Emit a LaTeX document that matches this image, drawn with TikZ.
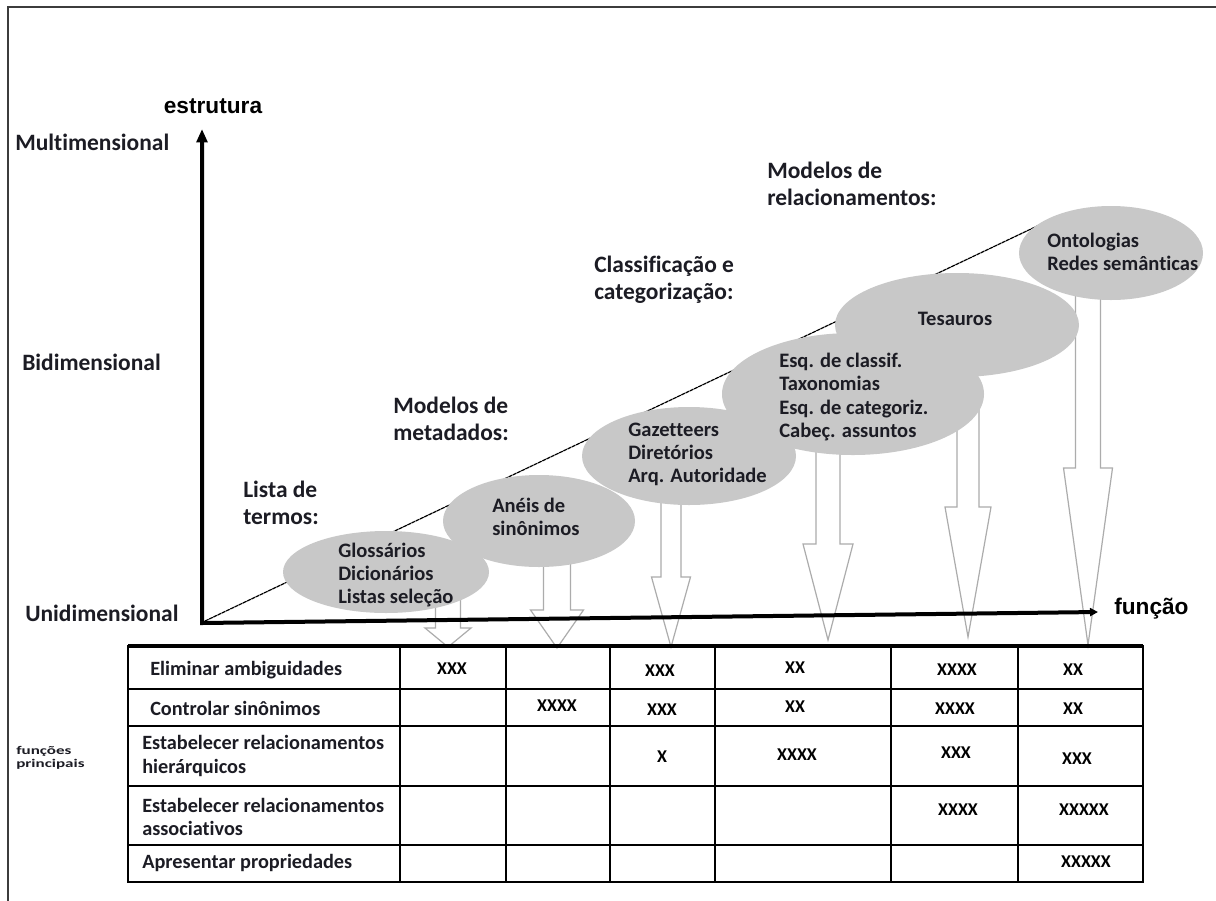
\documentclass[tikz,border=0pt]{standalone}
\usepackage{fontspec}
\setmainfont{Carlito}[Ligatures=CommonOff]
\newfontfamily\axisfont{Liberation Sans}
\usetikzlibrary{shapes.geometric,arrows.meta}
\definecolor{ellgray}{RGB}{200,200,200}
\definecolor{arrgray}{RGB}{172,172,172}
\definecolor{txt}{RGB}{28,28,36}
\definecolor{framegray}{RGB}{60,60,60}
\newcommand\blockarrow[7]{% name, xc, ytop, ywing, ytip, half shaft, half head
  \coordinate (#1) at (#2,#5);
  \draw[barrow] ({#2-#6},#3) -- ({#2-#6},#4) -- ({#2-#7},#4) -- (#1) -- ({#2+#7},#4) -- ({#2+#6},#4) -- ({#2+#6},#3);}
\begin{document}
\begin{tikzpicture}[x=0.75pt,y=-0.75pt,
  barrow/.style={draw=arrgray, line width=0.9pt, line join=miter},
  ell/.style={ellipse, fill=ellgray, draw=none, inner sep=0pt},
  big/.style={font=\fontsize{17.6}{20.4}\selectfont\bfseries, align=left, anchor=west, inner sep=0pt, text=txt},
  elltext/.style={font=\fontsize{15.4}{17.3}\selectfont\bfseries, align=left, anchor=west, inner sep=0pt, text=txt},
  axlabel/.style={font=\axisfont\fontsize{17}{20}\selectfont\bfseries, inner sep=0pt, text=black},
  rowlab/.style={font=\fontsize{15.2}{17.5}\selectfont\bfseries, align=left, anchor=west, inner sep=0pt, text=txt},
  cellx/.style={font=\fontsize{13.5}{16}\selectfont\bfseries, inner sep=0pt, text=black},
  tline/.style={line width=1.5pt, black},
  axis/.style={line width=3pt, black, line join=miter},
  diag/.style={line width=0.9pt, black, dash pattern=on 3pt off 0.5pt}]
\useasboundingbox (0,0) rectangle (1216,900);
\fill[white] (0,0) rectangle (1216,900);
% frame
\draw[framegray, line width=1.2pt] (8,905) -- (8,7) -- (1222,7);

% block arrows (drawn first, ellipses cover their tops)
\blockarrow{t1}{448}{598}{628}{647}{12.5}{23}
\blockarrow{t2}{557}{540}{610}{648}{13.5}{26.5}
\blockarrow{t3}{671}{480}{577}{647}{10}{19.5}
\blockarrow{t4}{828}{420}{544}{640}{12}{25}
\blockarrow{t5}{968}{400}{507}{637}{11}{23}
\blockarrow{t6}{1088}{270}{468}{645}{12.5}{24.5}

% diagonal line
\coordinate (dstart) at (205,621);
\coordinate (dend) at (1052,219);
\draw[diag] (dstart) -- (dend);

% ellipses
\node[ell, minimum width=154.5pt, minimum height=61.5pt] (e1) at (386,572) {};
\node[ell, minimum width=144pt, minimum height=69pt] (e2) at (539,521) {};
\node[ell, minimum width=160.5pt, minimum height=73.5pt] (e3) at (689,456) {};
\node[ell, minimum width=196.5pt, minimum height=91.5pt] (e4) at (853,394) {};
\node[ell, minimum width=183pt, minimum height=78pt] (e5) at (957,325) {};
\node[ell, minimum width=138pt, minimum height=70.5pt] (e6) at (1111,253) {};

% ellipse texts
\node[elltext] (g1) at (338,575) {Glossários\\Dicionários\\Listas seleção};
\node[elltext] (g2) at (492,517) {Anéis de\\sinônimos};
\node[elltext] (g3) at (628,454) {Gazetteers\\Diretórios\\Arq. Autoridade};
\node[elltext] (g4) at (779,397) {Esq. de classif.\\Taxonomias\\Esq. de categoriz.\\Cabeç. assuntos};
\node[elltext, anchor=center] (g5) at (955,319) {Tesauros};
\node[elltext] (g6) at (1047,252) {Ontologias\\Redes semânticas};

% category labels
\node[big] (c1) at (243,503) {Lista de\\termos:};
\node[big] (c2) at (393,419) {Modelos de\\metadados:};
\node[big] (c3) at (594,280) {Classificação e\\categorização:};
\node[big] (c4) at (767,184) {Modelos de\\relacionamentos:};

% axes
\coordinate (O) at (202,623);
\coordinate (ytop) at (202,129);
\coordinate (xend) at (1098,612);
\draw[axis, {Triangle[length=10pt,width=8pt]}-{Triangle[length=6pt,width=6pt]}] (ytop) -- (O) -- (xend);

% axis labels
\node[axlabel] (lest) at (213,106) {estrutura};
\node[axlabel, anchor=west] (lfun) at (1114,609) {função};
\node[big] (lmul) at (15,142) {Multimensional};
\node[big] (lbid) at (22,362) {Bidimensional};
\node[big] (luni) at (25,613) {Unidimensional};

% small side label
\node[font=\fontsize{8.8}{9.8}\selectfont\bfseries, align=left, anchor=west, inner sep=0pt, text=txt] (fp) at (16,758)
  {\scalebox{1.45}[1]{funções}\\\scalebox{1.45}[1]{principais}};

% table
\draw[tline] (128,646) rectangle (1143,882);
\draw[line width=3pt] (128,646) -- (1143,646);
\draw[line width=2.2pt] (1143,646) -- (1143,882);
\foreach \y in {689,726,786,845} \draw[tline] (128,\y) -- (1143,\y);
\foreach \x in {400,506,610,715,891,1018} \draw[tline] (\x,646) -- (\x,882);

% row labels
\node[rowlab] (r1) at (150,670) {Eliminar ambiguidades};
\node[rowlab] (r2) at (150,708) {Controlar sinônimos};
\node[rowlab] (r3) at (142,756) {Estabelecer relacionamentos\\hierárquicos};
\node[rowlab] (r4) at (142,817) {Estabelecer relacionamentos\\associativos};
\node[rowlab] (r5) at (142,863) {Apresentar propriedades};

% cell marks
\node[cellx] (x11) at (452,669) {XXX};
\node[cellx] (x13) at (660,671) {XXX};
\node[cellx] (x14) at (795,668) {XX};
\node[cellx] (x15) at (957,670) {XXXX};
\node[cellx] (x16) at (1073,670) {XX};
\node[cellx] (x22) at (557,706) {XXXX};
\node[cellx] (x23) at (662,710) {XXX};
\node[cellx] (x24) at (795,707) {XX};
\node[cellx] (x25) at (955,709) {XXXX};
\node[cellx] (x26) at (1073,709) {XX};
\node[cellx] (x33) at (662,757) {X};
\node[cellx] (x34) at (797,755) {XXXX};
\node[cellx] (x35) at (956,753) {XXX};
\node[cellx] (x36) at (1077,759) {XXX};
\node[cellx] (x45) at (958,810) {XXXX};
\node[cellx] (x46) at (1084,810) {XXXXX};
\node[cellx] (x56) at (1086,862) {XXXXX};
\end{tikzpicture}
\end{document}
